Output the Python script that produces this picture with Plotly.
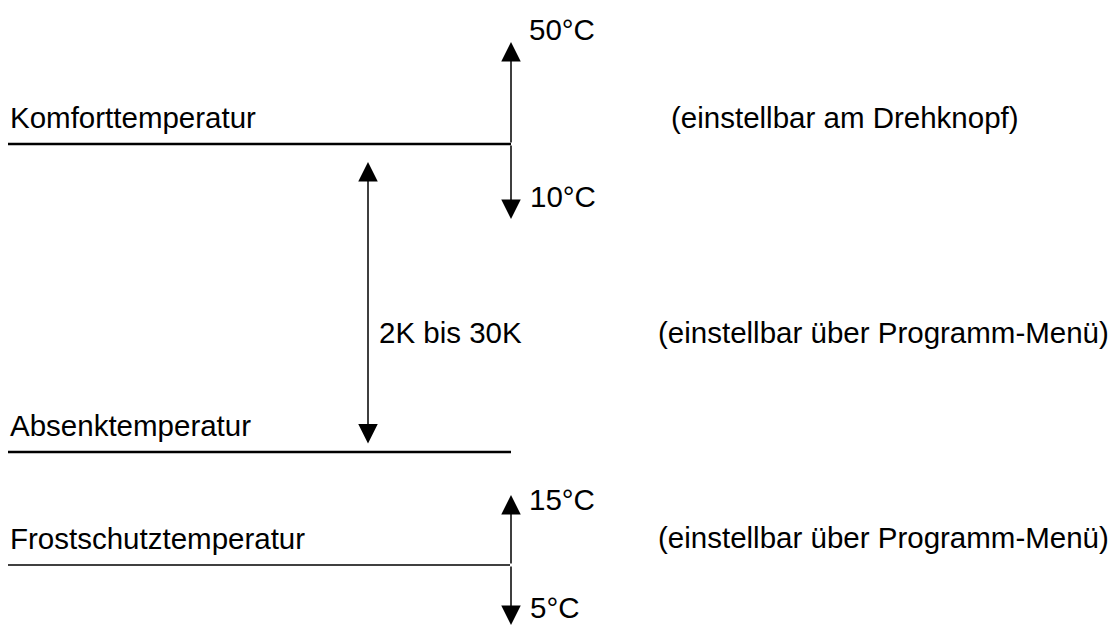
import plotly.graph_objects as go

# Levels (horizontal lines) — y in diagram units (top = 0)
level_names = ["Komforttemperatur", "Absenktemperatur", "Frostschutztemperatur"]
level_y = [144, 452, 565]
level_x_end = [511, 511, 510]
level_width = [2.5, 2.5, 1.5]

# Adjustment ranges
range_x = [511, 368, 511]
range_top = [42, 162, 495]
range_bottom = [219, 445, 625]
range_top_label = ["50°C", "", "15°C"]
range_bottom_label = ["10°C", "", "5°C"]
range_mid_label = ["", "2K bis 30K", ""]
range_mid_y = [0, 332, 0]
label_top_y = [29, None, 499]
label_bottom_y = [196, None, 607]

# Remarks
remarks = ["(einstellbar am Drehknopf)", "(einstellbar über Programm-Menü)", "(einstellbar über Programm-Menü)"]
remark_x = [669, 656, 656]
remark_y = [117, 332, 537]

FONT = dict(family="Liberation Sans", size=29.5, color="black")
ARROW = dict(arrowcolor="black", arrowwidth=1.5, arrowsize=2.6, standoff=0, showarrow=True, text="",
             xref="x", yref="y", axref="x", ayref="y")

fig = go.Figure()
annotations = []

for name, y, xe, w in zip(level_names, level_y, level_x_end, level_width):
    fig.add_trace(go.Scatter(x=[8, xe], y=[y, y], mode="lines",
                             line=dict(color="black", width=w), hoverinfo="skip", showlegend=False))
    annotations.append(dict(x=8, y=y - 27, text=name, showarrow=False, xanchor="left",
                            yanchor="middle", font=FONT, xref="x", yref="y"))

for i, (x, yt, yb) in enumerate(zip(range_x, range_top, range_bottom)):
    if i == 1:
        annotations.append(dict(x=x, y=yt, ax=x, ay=yb, arrowhead=2, startarrowhead=2,
                                arrowside="end+start", startarrowsize=2.6, startstandoff=0, **ARROW))
    else:
        ymid = level_y[0] if i == 0 else level_y[2]
        annotations.append(dict(x=x, y=yt, ax=x, ay=ymid, arrowhead=2, **ARROW))
        annotations.append(dict(x=x, y=yb, ax=x, ay=ymid, arrowhead=2, **ARROW))
    if range_top_label[i]:
        annotations.append(dict(x=x + 16, y=label_top_y[i], text=range_top_label[i], showarrow=False,
                                xanchor="left", yanchor="middle", font=FONT, xref="x", yref="y"))
    if range_bottom_label[i]:
        annotations.append(dict(x=x + 17, y=label_bottom_y[i], text=range_bottom_label[i], showarrow=False,
                                xanchor="left", yanchor="middle", font=FONT, xref="x", yref="y"))
    if range_mid_label[i]:
        annotations.append(dict(x=x + 9, y=range_mid_y[i], text=range_mid_label[i], showarrow=False,
                                xanchor="left", yanchor="middle", font=FONT, xref="x", yref="y"))

for t, x, y in zip(remarks, remark_x, remark_y):
    annotations.append(dict(x=x, y=y, text=t, showarrow=False, xanchor="left", yanchor="middle",
                            font=FONT, xref="x", yref="y"))

fig.update_layout(
    width=1112, height=625, margin=dict(l=0, r=0, t=0, b=0),
    paper_bgcolor="white", plot_bgcolor="white",
    xaxis=dict(range=[0, 1112], visible=False, fixedrange=True),
    yaxis=dict(range=[625, 0], visible=False, fixedrange=True),
    annotations=annotations, showlegend=False,
)
fig.write_html("out.html", config={"displayModeBar": False},
               post_script="document.body.style.margin='0';document.body.style.overflow='hidden';")
